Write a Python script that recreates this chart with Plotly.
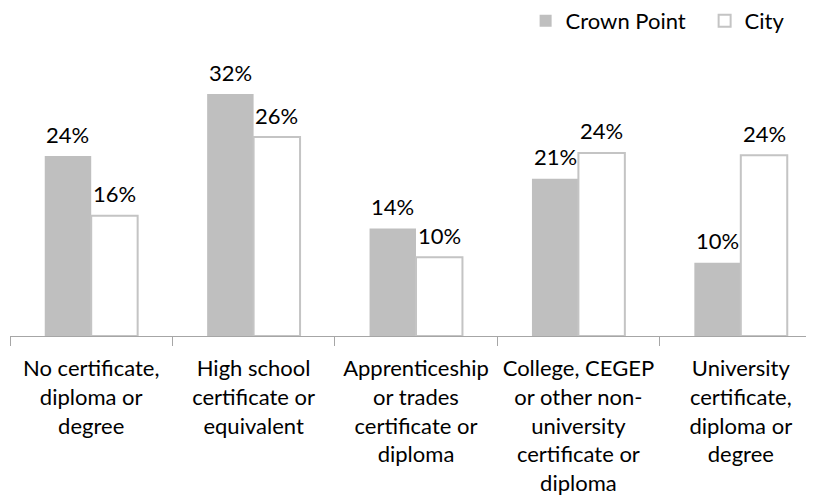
import plotly.graph_objects as go

# categories (x axis tick labels, line breaks as in the original)
categories = [
    "No certificate,<br>diploma or<br>degree",
    "High school<br>certificate or<br>equivalent",
    "Apprenticeship<br>or trades<br>certificate or<br>diploma",
    "College, CEGEP<br>or other non-<br>university<br>certificate or<br>diploma",
    "University<br>certificate,<br>diploma or<br>degree",
]

# share of population (%)
crown_point = [23.8, 32.0, 14.2, 20.8, 9.7]
city = [15.9, 26.3, 10.4, 24.2, 23.9]

crown_point_labels = ["24%", "32%", "14%", "21%", "10%"]
city_labels = ["16%", "26%", "10%", "24%", "24%"]

FONT = "Lato"
GREY = "#BFBFBF"

fig = go.Figure()
fig.add_trace(go.Bar(
    x=categories, y=crown_point, name="Crown Point",
    marker=dict(color=GREY, line=dict(width=0)),
))
fig.add_trace(go.Bar(
    x=categories, y=city, name="City",
    marker=dict(color="white", line=dict(color="#C4C4C4", width=2)),
))

# data labels, sitting well above each bar like the Excel default
half = 23.25
for cat, v, t in zip(categories, crown_point, crown_point_labels):
    fig.add_annotation(x=cat, y=v, text=t, showarrow=False, xshift=-half,
                       yshift=22, yanchor="middle", font=dict(size=22, color="black"))
for cat, v, t in zip(categories, city, city_labels):
    fig.add_annotation(x=cat, y=v, text=t, showarrow=False, xshift=half,
                       yshift=22, yanchor="middle", font=dict(size=22, color="black"))

# the page body adds 8px, so the margins are 8px smaller than they look
fig.update_layout(
    width=814, height=501,
    margin=dict(l=2, r=0, t=32, b=173, autoexpand=False),
    paper_bgcolor="white", plot_bgcolor="white",
    font=dict(family=FONT, size=22, color="black"),
    barmode="group", bargap=0.428, bargroupgap=0,
    showlegend=True,
    legend=dict(orientation="h", x=0.635, xanchor="left", y=1.064, yanchor="middle",
                font=dict(size=22), entrywidth=134, bgcolor="rgba(0,0,0,0)"),
)
fig.update_xaxes(
    range=[-0.5, 4.5], automargin=False, tickangle=0,
    showline=True, linecolor="#A6A6A6", linewidth=1,
    ticks="outside", tickson="boundaries", ticklen=9, tickcolor="#A6A6A6",
    showgrid=False, tickfont=dict(size=22), ticklabelstandoff=13,
)
fig.update_yaxes(range=[0, 39.14], visible=False, showgrid=False, automargin=False)

fig.write_html("out.html")
